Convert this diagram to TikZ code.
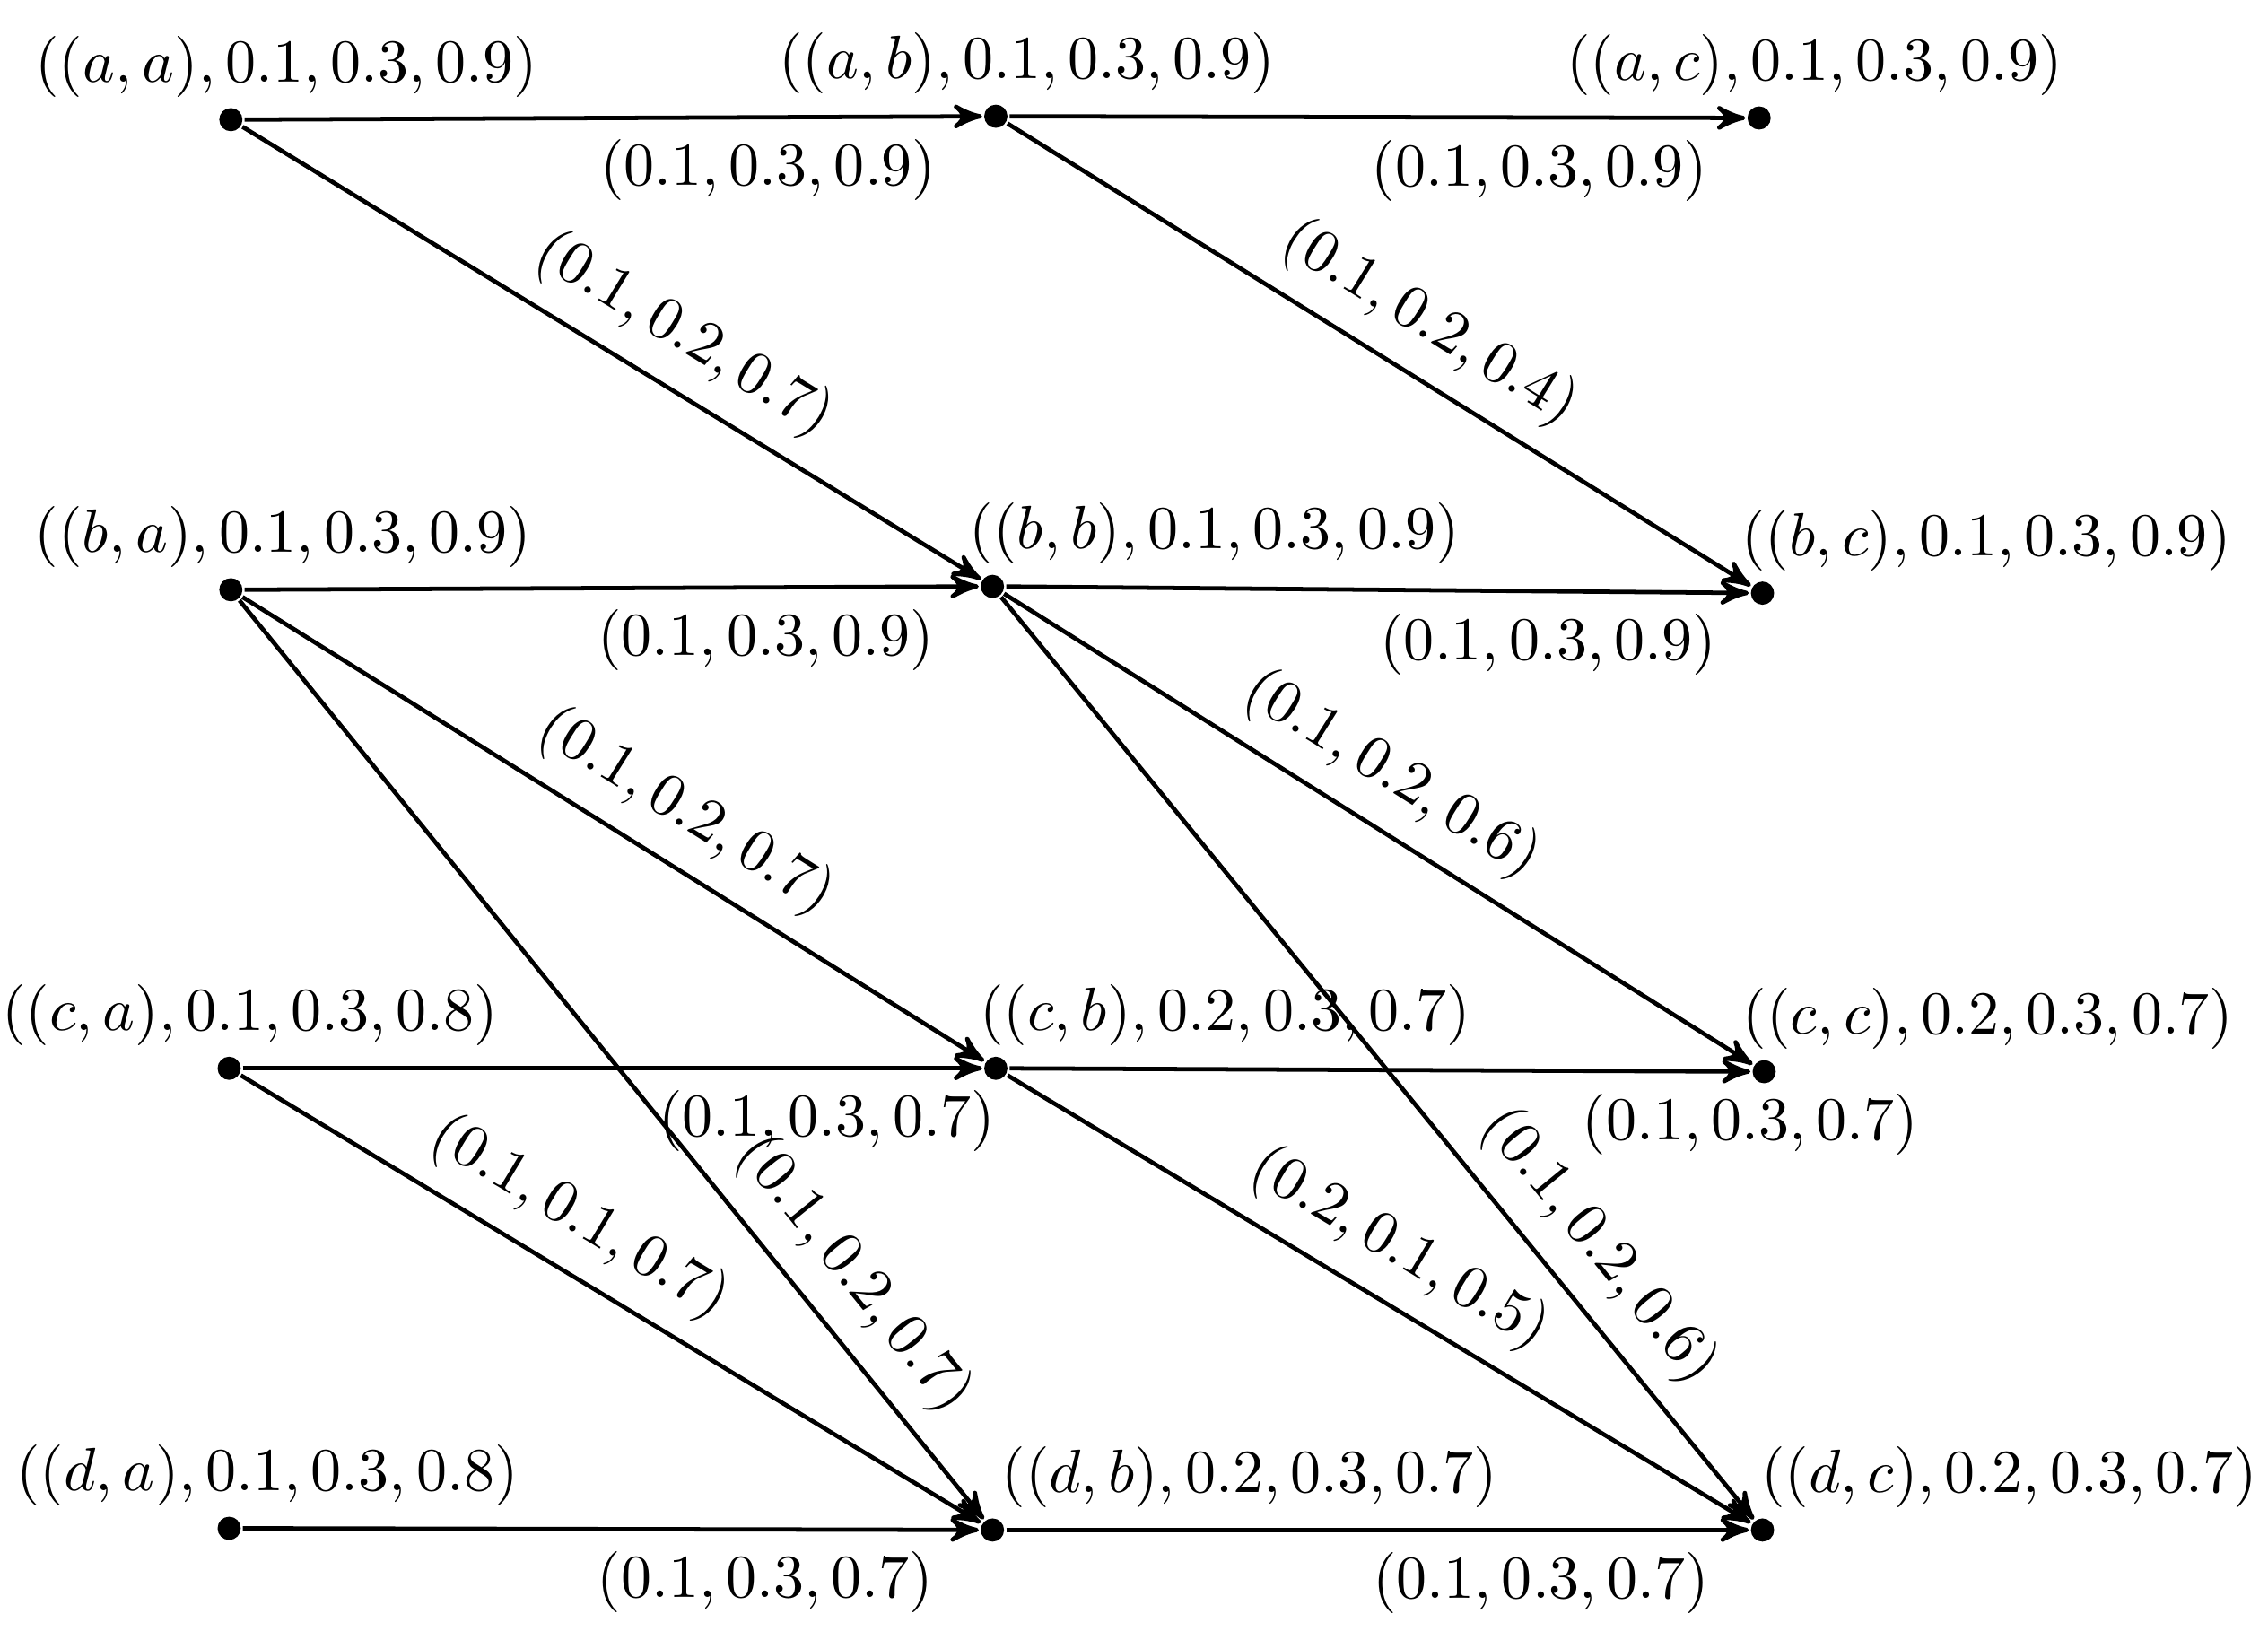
\documentclass[tikz,border=0pt]{standalone}
\usepackage{tikz}
\usetikzlibrary{positioning}
\usetikzlibrary{shapes,arrows}

\begin{document}
\begin{tikzpicture}[scale=0.97, >=stealth', line width=0.7pt,
	vtx/.style={circle, fill, inner sep=0pt, minimum size=3.8pt}]
	\useasboundingbox (0,0) rectangle (13.46,-9.73);

	\node[vtx] (aa) at (1.37,-0.71) {};
	\node[vtx] (ab) at (5.91,-0.69) {};
	\node[vtx] (ac) at (10.44,-0.70) {};

	\node[vtx] (ba) at (1.37,-3.50) {};
	\node[vtx] (bb) at (5.89,-3.48) {};
	\node[vtx] (bc) at (10.46,-3.52) {};

	\node[vtx] (ca) at (1.36,-6.34) {};
	\node[vtx] (cb) at (5.91,-6.34) {};
	\node[vtx] (cc) at (10.47,-6.36) {};

	\node[vtx] (da) at (1.36,-9.07) {};
	\node[vtx] (db) at (5.89,-9.08) {};
	\node[vtx] (dc) at (10.46,-9.08) {};

	\node (aa-txt) [above=-0.08cm of aa, xshift=0.32cm] {$((a,a),0.1,0.3,0.9)$};
	\node (ab-txt) [above=-0.08cm of ab, xshift=0.18cm] {$((a,b),0.1,0.3,0.9)$};
	\node (ac-txt) [above=-0.08cm of ac, xshift=0.32cm] {$((a,c),0.1,0.3,0.9)$};

	\node (ba-txt) [above=-0.08cm of ba, xshift=0.30cm] {$((b,a),0.1,0.3,0.9)$};
	\node (bb-txt) [above=-0.08cm of bb, xshift=1.28cm] {$((b,b),0.1,0.3,0.9)$};
	\node (bc-txt) [above=-0.08cm of bc, xshift=1.29cm] {$((b,c),0.1,0.3,0.9)$};

	\node (ca-txt) [above=-0.08cm of ca, xshift=0.12cm] {$((c,a),0.1,0.3,0.8)$};
	\node (cb-txt) [above=-0.08cm of cb, xshift=1.32cm] {$((c,b),0.2,0.3,0.7)$};
	\node (cc-txt) [above=-0.08cm of cc, xshift=1.29cm] {$((c,c),0.2,0.3,0.7)$};

	\node (da-txt) [above=-0.08cm of da, xshift=0.22cm] {$((d,a),0.1,0.3,0.8)$};
	\node (db-txt) [above=-0.08cm of db, xshift=1.48cm] {$((d,b),0.2,0.3,0.7)$};
	\node (dc-txt) [above=-0.08cm of dc, xshift=1.42cm] {$((d,c),0.2,0.3,0.7)$};

	\path[draw, ->] (aa) -- node[below, pos=0.71] {$(0.1,0.3,0.9)$} (ab);
	\path[draw, ->] (ab) -- node[below, pos=0.72] {$(0.1,0.3,0.9)$} (ac);
	\path[draw, ->] (aa) -- node[above, sloped, pos=0.56] {$(0.1,0.2,0.7)$} (bb);
	\path[draw, ->] (ab) -- node[above, sloped, pos=0.53] {$(0.1,0.2,0.4)$} (bc);

	\path[draw, ->] (ba) -- node[below, pos=0.71] {$(0.1,0.3,0.9)$} (bb);
	\path[draw, ->] (bb) -- node[below, pos=0.73] {$(0.1,0.3,0.9)$} (bc);
	\path[draw, ->] (ba) -- node[above, sloped, pos=0.56] {$(0.1,0.2,0.7)$} (cb);
	\path[draw, ->] (ba) -- node[above, sloped, pos=0.77] {$(0.1,0.2,0.7)$} (db);
	\path[draw, ->] (bb) -- node[above, sloped, pos=0.48] {$(0.1,0.2,0.6)$} (cc);
	\path[draw, ->] (bb) -- node[above, sloped, pos=0.74] {$(0.1,0.2,0.6)$} (dc);

	\path[draw, ->] (ca) -- node[below, pos=0.79] {$(0.1,0.3,0.7)$} (cb);
	\path[draw, ->] (cb) -- node[below, pos=1] {$(0.1,0.3,0.7)$} (cc);
	\path[draw, ->] (ca) -- node[above, sloped, pos=0.42] {$(0.1,0.1,0.7)$} (db);
	\path[draw, ->] (cb) -- node[above, sloped, pos=0.49] {$(0.2,0.1,0.5)$} (dc);

	\path[draw, ->] (da) -- node[below, pos=0.71] {$(0.1,0.3,0.7)$} (db);
	\path[draw, ->] (db) -- node[below, pos=0.72] {$(0.1,0.3,0.7)$} (dc);

\end{tikzpicture}
\end{document}
